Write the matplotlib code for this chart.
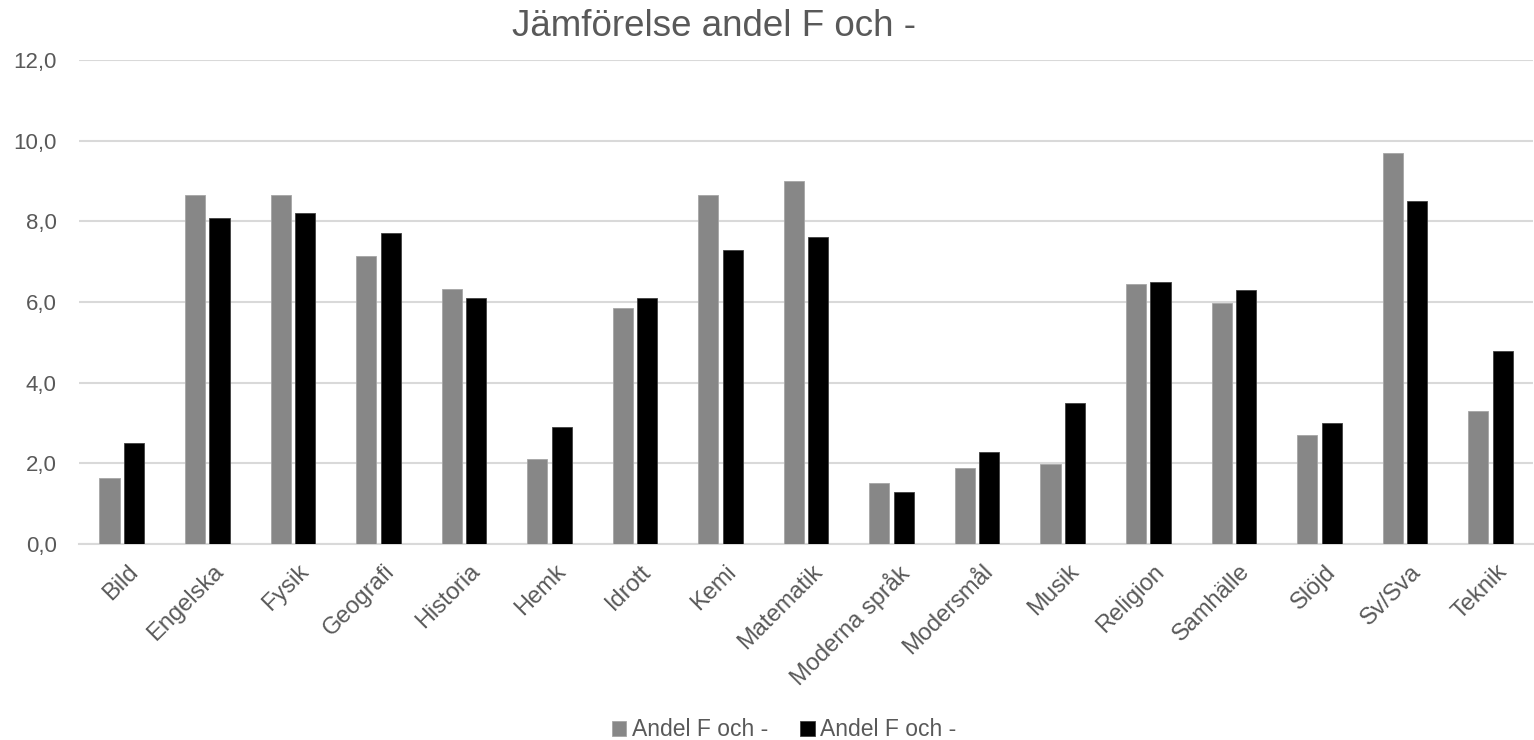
import matplotlib
matplotlib.use("Agg")
import matplotlib.pyplot as plt
import matplotlib.transforms as mtransforms
import numpy as np

plt.rcParams['font.family'] = ['Liberation Sans', 'DejaVu Sans']

# subjects and the two series
subjects = ["Bild", "Engelska", "Fysik", "Geografi", "Historia", "Hemk", "Idrott",
            "Kemi", "Matematik", "Moderna språk", "Modersmål", "Musik", "Religion",
            "Samhälle", "Slöjd", "Sv/Sva", "Teknik"]
series_gray = [1.64, 8.66, 8.66, 7.14, 6.32, 2.11, 5.85, 8.66, 9.01, 1.50, 1.89,
               1.99, 6.44, 5.97, 2.69, 9.69, 3.30]
series_black = [2.50, 8.09, 8.20, 7.70, 6.10, 2.90, 6.10, 7.29, 7.60, 1.30, 2.29,
                3.50, 6.50, 6.30, 2.99, 8.50, 4.79]
series_names = ["Andel F och -", "Andel F och -"]
yticks = [0, 2, 4, 6, 8, 10, 12]

text_col = "#595959"
grid_col = "#d9d9d9"

fig = plt.figure(figsize=(15.34, 7.40), dpi=100)
ax = fig.add_axes([0.0515, 0.2649, 0.948, 0.654])

x = np.arange(len(subjects))
w = 0.235
off = 0.143
ax.bar(x - off, series_gray, w, color="#878787", edgecolor="#a6a6a6",
       linewidth=0.6, label=series_names[0], zorder=3)
ax.bar(x + off, series_black, w, color="#000000", edgecolor="#404040",
       linewidth=0.6, label=series_names[1], zorder=3)

ax.set_xlim(-0.5, len(subjects) - 0.5)
ax.set_ylim(0, 12)
ax.set_yticks(yticks)
ax.set_yticklabels([f"{v:.1f}".replace(".", ",") for v in yticks])
ax.yaxis.grid(True, color=grid_col, linewidth=1.5, zorder=0)
ax.set_axisbelow(True)
for s in ["top", "right", "left"]:
    ax.spines[s].set_visible(False)
ax.spines["bottom"].set_color(grid_col)
ax.spines["bottom"].set_linewidth(1.5)
ax.tick_params(axis="y", length=0, pad=16, labelsize=16, labelcolor=text_col)
ax.tick_params(axis="x", length=0, pad=12, labelsize=17, labelcolor=text_col)

ax.set_xticks(x)
ax.set_xticklabels(subjects, rotation=45, ha="right", rotation_mode="anchor")
shift = mtransforms.ScaledTranslation(5 / 100, 0, fig.dpi_scale_trans)
for lbl in ax.get_xticklabels():
    lbl.set_transform(lbl.get_transform() + shift)

fig.text(0.4655, 0.9514, "Jämförelse andel F och -", ha="center", va="baseline",
         fontsize=26.5, color=text_col)

fig.legend(loc="center", bbox_to_anchor=(0.511, 0.014), ncol=2, frameon=False,
           fontsize=16.5, labelcolor=text_col, handlelength=0.64,
           handleheight=0.64, handletextpad=0.23, columnspacing=1.4)

fig.savefig("out.png", dpi=100)
